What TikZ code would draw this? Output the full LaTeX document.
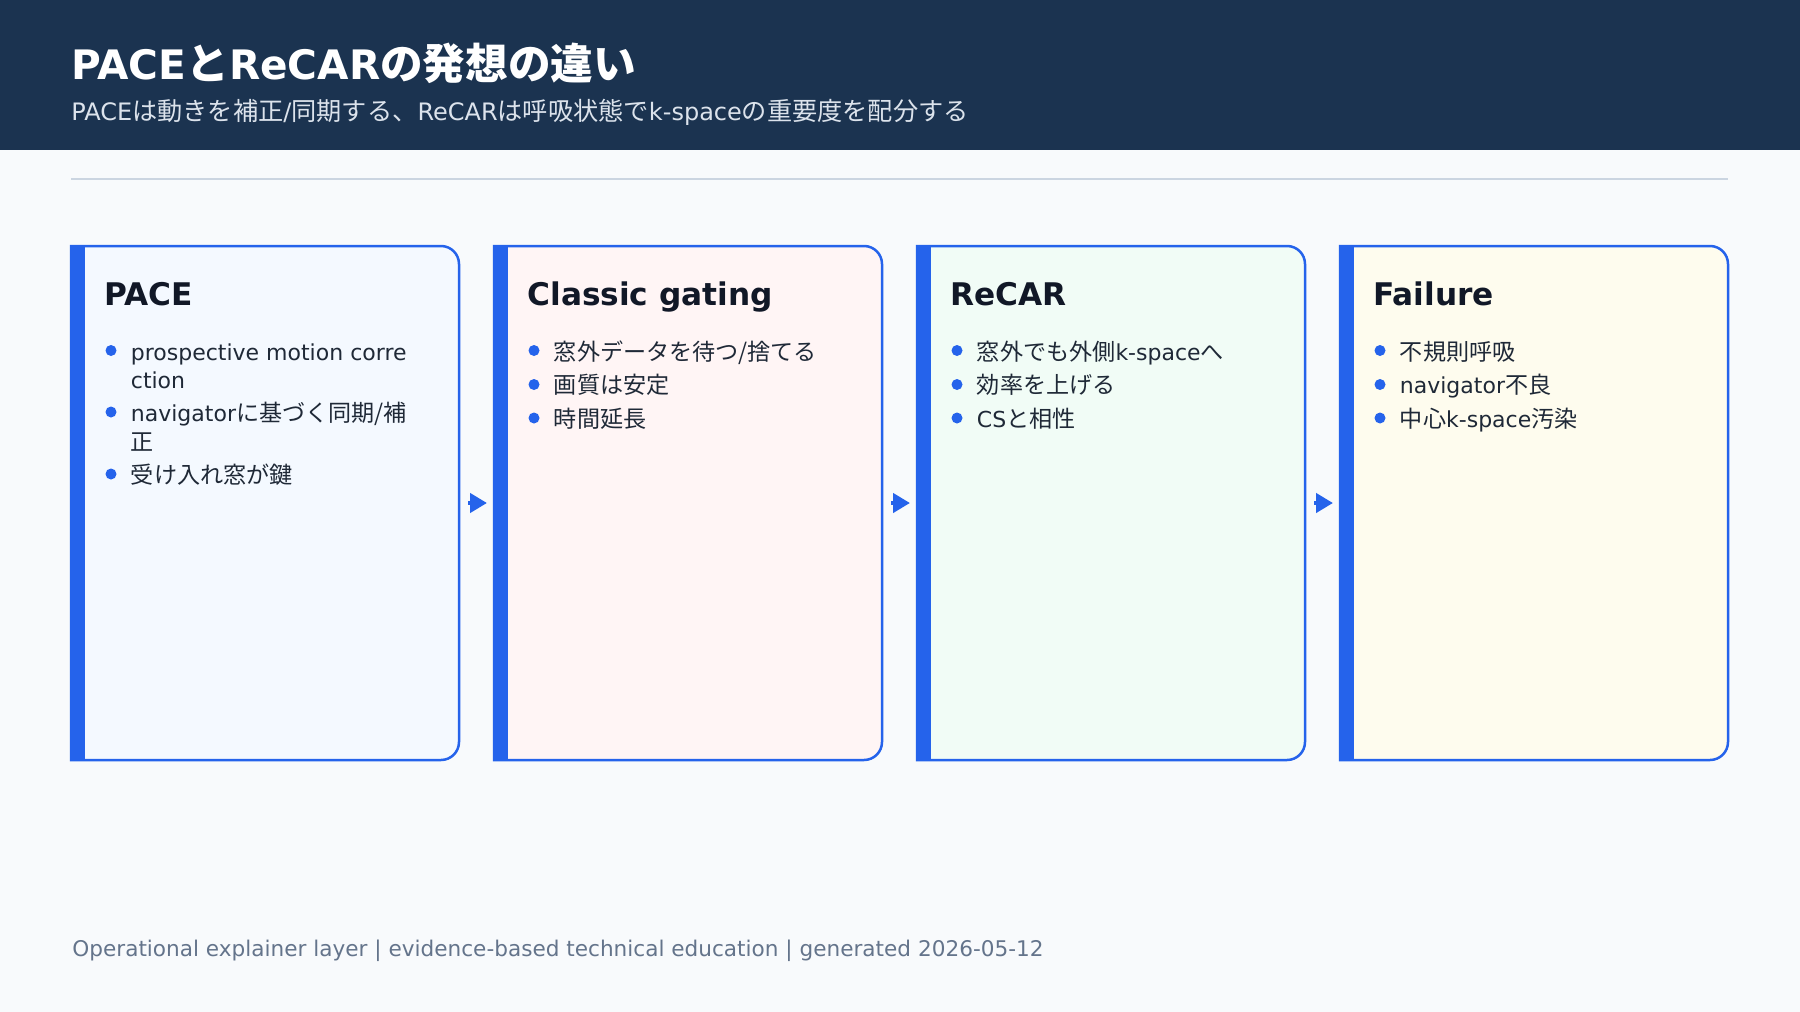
\documentclass[tikz,border=0pt]{standalone}
\usepackage{fontspec}
\setmainfont{DejaVu Sans}
\newfontfamily\jafont{Noto Sans CJK JP}[Scale=1.05]
\newcommand{\ja}[1]{{\jafont #1}}
\usetikzlibrary{arrows.meta, positioning}

\definecolor{navy}{HTML}{1B3350}
\definecolor{pagebg}{HTML}{F8FAFC}
\definecolor{rulegray}{HTML}{CBD5E1}
\definecolor{accent}{HTML}{2563EB}
\definecolor{inkdark}{HTML}{111827}
\definecolor{inkbody}{HTML}{1F2937}
\definecolor{subgray}{HTML}{DCE3EC}
\definecolor{footgray}{HTML}{64748B}
\definecolor{fillpace}{HTML}{F4F9FF}
\definecolor{fillgating}{HTML}{FFF5F5}
\definecolor{fillrecar}{HTML}{F1FCF6}
\definecolor{fillfailure}{HTML}{FEFCEE}

\tikzstyle{card} = [rectangle, inner sep=0pt, outer sep=0pt, minimum width=194pt, minimum height=257pt]
\tikzstyle{frame} = [draw=accent, line width=1.25pt]
\tikzstyle{cardtitle} = [anchor=base west, inner sep=0pt, text=inkdark, font=\bfseries\fontsize{15.6}{19}\selectfont]
\tikzstyle{item} = [anchor=base west, inner sep=0pt, align=left, text=inkbody, font=\fontsize{11}{14.25}\selectfont]
\tikzstyle{flow} = [draw=accent, line width=2.3pt, -{Triangle[length=8.5pt, width=9.5pt]}, shorten <=4.5pt, shorten >=3.5pt]

\begin{document}
\begin{tikzpicture}[x=0.5pt, y=-0.5pt]

\useasboundingbox (0,0) rectangle (1800,1012);
\fill[pagebg] (0,0) rectangle (1800,1012);

%header
\fill[navy] (0,0) rectangle (1800,150);
\node (title) [anchor=base west, inner sep=0pt, text=white, font=\bfseries\fontsize{20.3}{24}\selectfont] at (71,79) {PACE\ja{と}ReCAR\ja{の発想の違い}};
\node (subtitle) [anchor=base west, inner sep=0pt, text=subgray, font=\fontsize{12}{14}\selectfont] at (71,120.5) {PACE\ja{は動きを補正}/\ja{同期する、}ReCAR\ja{は呼吸状態で}k-space\ja{の重要度を配分する}};
\draw[rulegray, line width=1pt] (71,179) -- (1728,179);

%cards
\node (pace) [card, anchor=north west] at (71,246) {};
\node (gating) [card, right=17.5pt of pace] {};
\node (recar) [card, right=17.5pt of gating] {};
\node (failure) [card, right=17.5pt of recar] {};

\foreach \c in {pace, gating, recar, failure}{
  \filldraw[frame, fill=fill\c] (\c.north west) [rounded corners=9pt] -- (\c.north east) -- (\c.south east) [sharp corners] -- (\c.south west) -- cycle;
  \fill[accent] (\c.north west) rectangle ([xshift=7pt]\c.south west);
}

%titles
\node (pace-t) [cardtitle] at ([shift={(33,59)}]pace.north west) {PACE};
\node (gating-t) [cardtitle] at ([shift={(33,59)}]gating.north west) {Classic gating};
\node (recar-t) [cardtitle] at ([shift={(33,59)}]recar.north west) {ReCAR};
\node (failure-t) [cardtitle] at ([shift={(33,59)}]failure.north west) {Failure};

%items (two-line items sit on their last line)
\node (pace-1) [item] at ([shift={(59.5,142.5)}]pace.north west) {prospective motion corre\\ction};
\node (pace-2) [item] at ([shift={(59.5,204)}]pace.north west) {navigator\ja{に基づく同期/補}\\\ja{正}};
\node (pace-3) [item] at ([shift={(59.5,237.5)}]pace.north west) {\ja{受け入れ窓が鍵}};

\node (gating-1) [item] at ([shift={(59.5,114)}]gating.north west) {\ja{窓外データを待つ/捨てる}};
\node (gating-2) [item] at ([shift={(59.5,147.5)}]gating.north west) {\ja{画質は安定}};
\node (gating-3) [item] at ([shift={(59.5,181.5)}]gating.north west) {\ja{時間延長}};

\node (recar-1) [item] at ([shift={(59.5,114)}]recar.north west) {\ja{窓外でも外側}k-space\ja{へ}};
\node (recar-2) [item] at ([shift={(59.5,147.5)}]recar.north west) {\ja{効率を上げる}};
\node (recar-3) [item] at ([shift={(59.5,181.5)}]recar.north west) {CS\ja{と相性}};

\node (failure-1) [item] at ([shift={(59.5,114)}]failure.north west) {\ja{不規則呼吸}};
\node (failure-2) [item] at ([shift={(59.5,147.5)}]failure.north west) {navigator\ja{不良}};
\node (failure-3) [item] at ([shift={(59.5,181.5)}]failure.north west) {\ja{中心}k-space\ja{汚染}};

%bullets
\foreach \c in {pace, gating, recar, failure}{
  \fill[accent] ([shift={(40,104.5)}]\c.north west) circle (2.75pt);
}
\fill[accent] ([shift={(40,166)}]pace.north west) circle (2.75pt);
\fill[accent] ([shift={(40,228)}]pace.north west) circle (2.75pt);
\foreach \c in {gating, recar, failure}{
  \fill[accent] ([shift={(40,138.5)}]\c.north west) circle (2.75pt);
  \fill[accent] ([shift={(40,172)}]\c.north west) circle (2.75pt);
}

%arrows
\draw [flow] (pace) -- (gating);
\draw [flow] (gating) -- (recar);
\draw [flow] (recar) -- (failure);

%footer
\node (footer) [anchor=base west, inner sep=0pt, text=footgray, font=\fontsize{10.8}{13}\selectfont] at (72,956) {Operational explainer layer | evidence-based technical education | generated 2026-05-12};

\end{tikzpicture}
\end{document}
